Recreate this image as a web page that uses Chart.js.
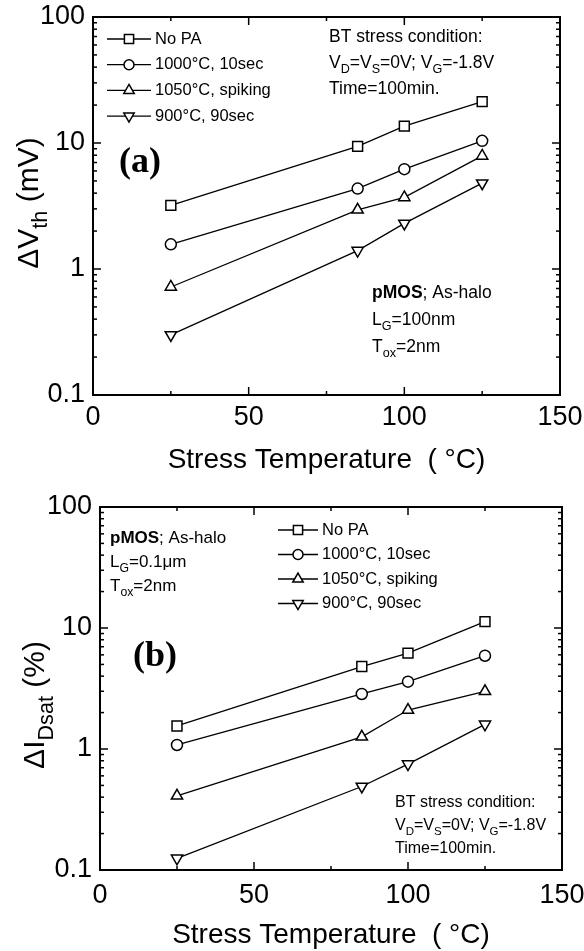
<!DOCTYPE html>
<html>
<head>
<meta charset="utf-8">
<script src="https://cdn.jsdelivr.net/npm/chart.js@4.4.1/dist/chart.umd.min.js"></script>
<style>
  body { margin: 0; background: #fff; }
  .panel { position: absolute; left: 0; }
</style>
</head>
<body>
<div class="panel" style="top:0"><canvas id="chartA" width="584" height="478"></canvas></div>
<div class="panel" style="top:470px"><canvas id="chartB" width="584" height="481"></canvas></div>
<script>
// stress temperatures (°C)
const temps = [25, 85, 100, 125];
const seriesNames = ['No PA', '1000°C, 10sec', '1050°C, spiking', '900°C, 90sec'];

// (a) threshold voltage shift, mV
const vthNoPA = [3.2, 9.4, 13.6, 21.3];
const vth1000 = [1.57, 4.35, 6.2, 10.4];
const vth1050 = [0.72, 2.95, 3.7, 7.9];
const vth900 = [0.30, 1.40, 2.3, 4.8];

// (b) drain saturation current shift, %
const idNoPA = [1.55, 4.8, 6.2, 11.3];
const id1000 = [1.08, 2.85, 3.6, 5.9];
const id1050 = [0.41, 1.26, 2.1, 3.0];
const id900 = [0.125, 0.49, 0.75, 1.6];

const xTickValues = [0, 50, 100, 150];
const xMinorValues = [25, 75, 125];
const yTickValues = [0.1, 1, 10, 100];
const yTickLabels = ['0.1', '1', '10', '100'];

const SANS = '"Liberation Sans", Arial, sans-serif';
const SERIF = '"Liberation Serif", "Times New Roman", serif';

const markerStyles = [
  { pointStyle: 'rect', pointRadius: 7, pointRotation: 0 },
  { pointStyle: 'circle', pointRadius: 5.5, pointRotation: 0 },
  { pointStyle: 'triangle', pointRadius: 6.5, pointRotation: 0 },
  { pointStyle: 'triangle', pointRadius: 6.5, pointRotation: 180 }
];

function makeDatasets(arrays) {
  return arrays.map((vals, i) => ({
    label: seriesNames[i],
    data: temps.map((t, j) => ({ x: t, y: vals[j] })),
    borderColor: '#000',
    borderWidth: 1.3,
    pointBackgroundColor: '#fff',
    pointBorderColor: '#000',
    pointBorderWidth: 1.5,
    ...markerStyles[i]
  }));
}

// text runs with sub/superscripts: [text, kind]
function richWidth(ctx, segs, size) {
  let w = 0;
  for (const [t, k] of segs) {
    const small = k === 'sub' || k === 'sup';
    ctx.font = (k === 'b' ? 'bold ' : '') + (small ? size * 0.72 : size) + 'px ' + SANS;
    w += ctx.measureText(t).width;
  }
  return w;
}
function drawRich(ctx, segs, x, y, size) {
  let cx = x;
  ctx.textAlign = 'left';
  ctx.textBaseline = 'middle';
  ctx.fillStyle = '#000';
  for (const [t, k] of segs) {
    const small = k === 'sub' || k === 'sup';
    ctx.font = (k === 'b' ? 'bold ' : '') + (small ? size * 0.72 : size) + 'px ' + SANS;
    const dy = k === 'sub' ? size * 0.38 : (k === 'sup' ? -size * 0.35 : 0);
    ctx.fillText(t, cx, y + dy);
    cx += ctx.measureText(t).width;
  }
}

// box + inward ticks on all four sides
const framePlugin = {
  id: 'frame',
  afterDraw(chart) {
    const { ctx, chartArea: a, scales: { x, y } } = chart;
    ctx.save();
    ctx.strokeStyle = '#000';
    ctx.lineWidth = 2;
    ctx.strokeRect(a.left, a.top, a.right - a.left, a.bottom - a.top);
    ctx.lineWidth = 1.5;
    const tick = (x1, y1, x2, y2) => { ctx.beginPath(); ctx.moveTo(x1, y1); ctx.lineTo(x2, y2); ctx.stroke(); };
    xTickValues.forEach(v => { const px = x.getPixelForValue(v); tick(px, a.bottom, px, a.bottom - 8); tick(px, a.top, px, a.top + 8); });
    xMinorValues.forEach(v => { const px = x.getPixelForValue(v); tick(px, a.bottom, px, a.bottom - 4); tick(px, a.top, px, a.top + 4); });
    yTickValues.forEach(v => { const py = y.getPixelForValue(v); tick(a.left, py, a.left + 8, py); tick(a.right, py, a.right - 8, py); });
    for (const d of [0.1, 1, 10]) {
      for (let m = 2; m <= 9; m++) {
        const py = y.getPixelForValue(d * m);
        tick(a.left, py, a.left + 4, py); tick(a.right, py, a.right - 4, py);
      }
    }
    ctx.restore();
  }
};

// legend, panel letter, notes and rotated y title
const notesPlugin = {
  id: 'notes',
  afterDraw(chart, args, o) {
    const ctx = chart.ctx;
    ctx.save();
    // legend rows
    chart.data.datasets.forEach((ds, i) => {
      const ry = o.legend.y + i * o.legend.dy;
      ctx.strokeStyle = '#000';
      ctx.lineWidth = 1.3;
      ctx.beginPath(); ctx.moveTo(o.legend.x0, ry); ctx.lineTo(o.legend.x1, ry); ctx.stroke();
      ctx.fillStyle = '#fff';
      ctx.lineWidth = 1.5;
      Chart.helpers.drawPoint(ctx, { pointStyle: ds.pointStyle, radius: ds.pointRadius - 0.5, rotation: ds.pointRotation, borderWidth: 1.5 }, (o.legend.x0 + o.legend.x1) / 2, ry);
      drawRich(ctx, [[ds.label, 'n']], o.legend.x1 + 4, ry, 16.5);
    });
    // note blocks
    o.blocks.forEach(b => b.lines.forEach((segs, i) => drawRich(ctx, segs, b.x, b.y + i * b.dy, b.size)));
    // panel letter
    ctx.font = 'bold 36px ' + SERIF;
    ctx.textBaseline = 'middle';
    ctx.fillText(o.letter.text, o.letter.x, o.letter.y);
    // y axis title
    ctx.translate(o.yTitle.x, o.yTitle.y);
    ctx.rotate(-Math.PI / 2);
    const w = richWidth(ctx, o.yTitle.segs, 30);
    drawRich(ctx, o.yTitle.segs, -w / 2, 0, 30);
    ctx.restore();
  }
};

function makePanel(id, arrays, box, notes) {
  const canvas = document.getElementById(id);
  const H = canvas.height;
  return new Chart(canvas, {
    type: 'line',
    data: { datasets: makeDatasets(arrays) },
    options: {
      responsive: false,
      animation: false,
      layout: { padding: { top: box.top, right: 584 - box.right, left: 0, bottom: 0 } },
      plugins: { legend: { display: false }, tooltip: { enabled: false }, notes },
      scales: {
        x: {
          type: 'linear', min: 0, max: 150,
          afterBuildTicks: s => { s.ticks = xTickValues.map(v => ({ value: v })); },
          afterFit: s => { s.height = H - box.bottom; s.paddingLeft = 0; s.paddingRight = 0; },
          grid: { display: false, drawTicks: false },
          border: { display: false },
          ticks: { color: '#000', padding: box.tickPad, maxRotation: 0, font: { family: SANS, size: 27 } },
          title: { display: true, text: 'Stress Temperature  ( °C)', color: '#000', padding: { top: 0, bottom: box.titlePad }, font: { family: SANS, size: 28, lineHeight: 1 } }
        },
        y: {
          type: 'logarithmic', min: 0.1, max: 100,
          afterBuildTicks: s => { s.ticks = yTickValues.map(v => ({ value: v })); },
          afterFit: s => { s.width = box.left; s.paddingTop = 0; s.paddingBottom = 0; },
          grid: { display: false, drawTicks: false },
          border: { display: false },
          ticks: { color: '#000', padding: 8, callback: (v, i) => yTickLabels[i], font: { family: SANS, size: 27 } }
        }
      }
    },
    plugins: [framePlugin, notesPlugin]
  });
}

const btLines = [
  [['BT stress condition:', 'n']],
  [['V', 'n'], ['D', 'sub'], ['=V', 'n'], ['S', 'sub'], ['=0V; V', 'n'], ['G', 'sub'], ['=-1.8V', 'n']],
  [['Time=100min.', 'n']]
];

makePanel('chartA', [vthNoPA, vth1000, vth1050, vth900],
  { left: 93, right: 560, top: 17, bottom: 395, tickPad: 6, titlePad: 4 },
  {
    legend: { x0: 107, x1: 151, y: 39, dy: 25.7 },
    letter: { text: '(a)', x: 119, y: 163 },
    yTitle: { x: 30, y: 203, segs: [['ΔV', 'n'], ['th', 'sub'], [' (mV)', 'n']] },
    blocks: [
      { x: 329, y: 37, dy: 26, size: 17.5, lines: btLines },
      { x: 372, y: 293, dy: 27, size: 17.5, lines: [
        [['pMOS', 'b'], ['; As-halo', 'n']],
        [['L', 'n'], ['G', 'sub'], ['=100nm', 'n']],
        [['T', 'n'], ['ox', 'sub'], ['=2nm', 'n']]
      ] }
    ]
  });

makePanel('chartB', [idNoPA, id1000, id1050, id900],
  { left: 100, right: 562, top: 37, bottom: 400, tickPad: 9, titlePad: 2 },
  {
    legend: { x0: 278, x1: 318, y: 60, dy: 24.5 },
    letter: { text: '(b)', x: 133, y: 187 },
    yTitle: { x: 36, y: 235, segs: [['ΔI', 'n'], ['Dsat', 'sub'], [' (%)', 'n']] },
    blocks: [
      { x: 110, y: 68, dy: 24, size: 17, lines: [
        [['pMOS', 'b'], ['; As-halo', 'n']],
        [['L', 'n'], ['G', 'sub'], ['=0.1μm', 'n']],
        [['T', 'n'], ['ox', 'sub'], ['=2nm', 'n']]
      ] },
      { x: 395, y: 333, dy: 23, size: 16, lines: btLines }
    ]
  });
</script>
</body>
</html>
